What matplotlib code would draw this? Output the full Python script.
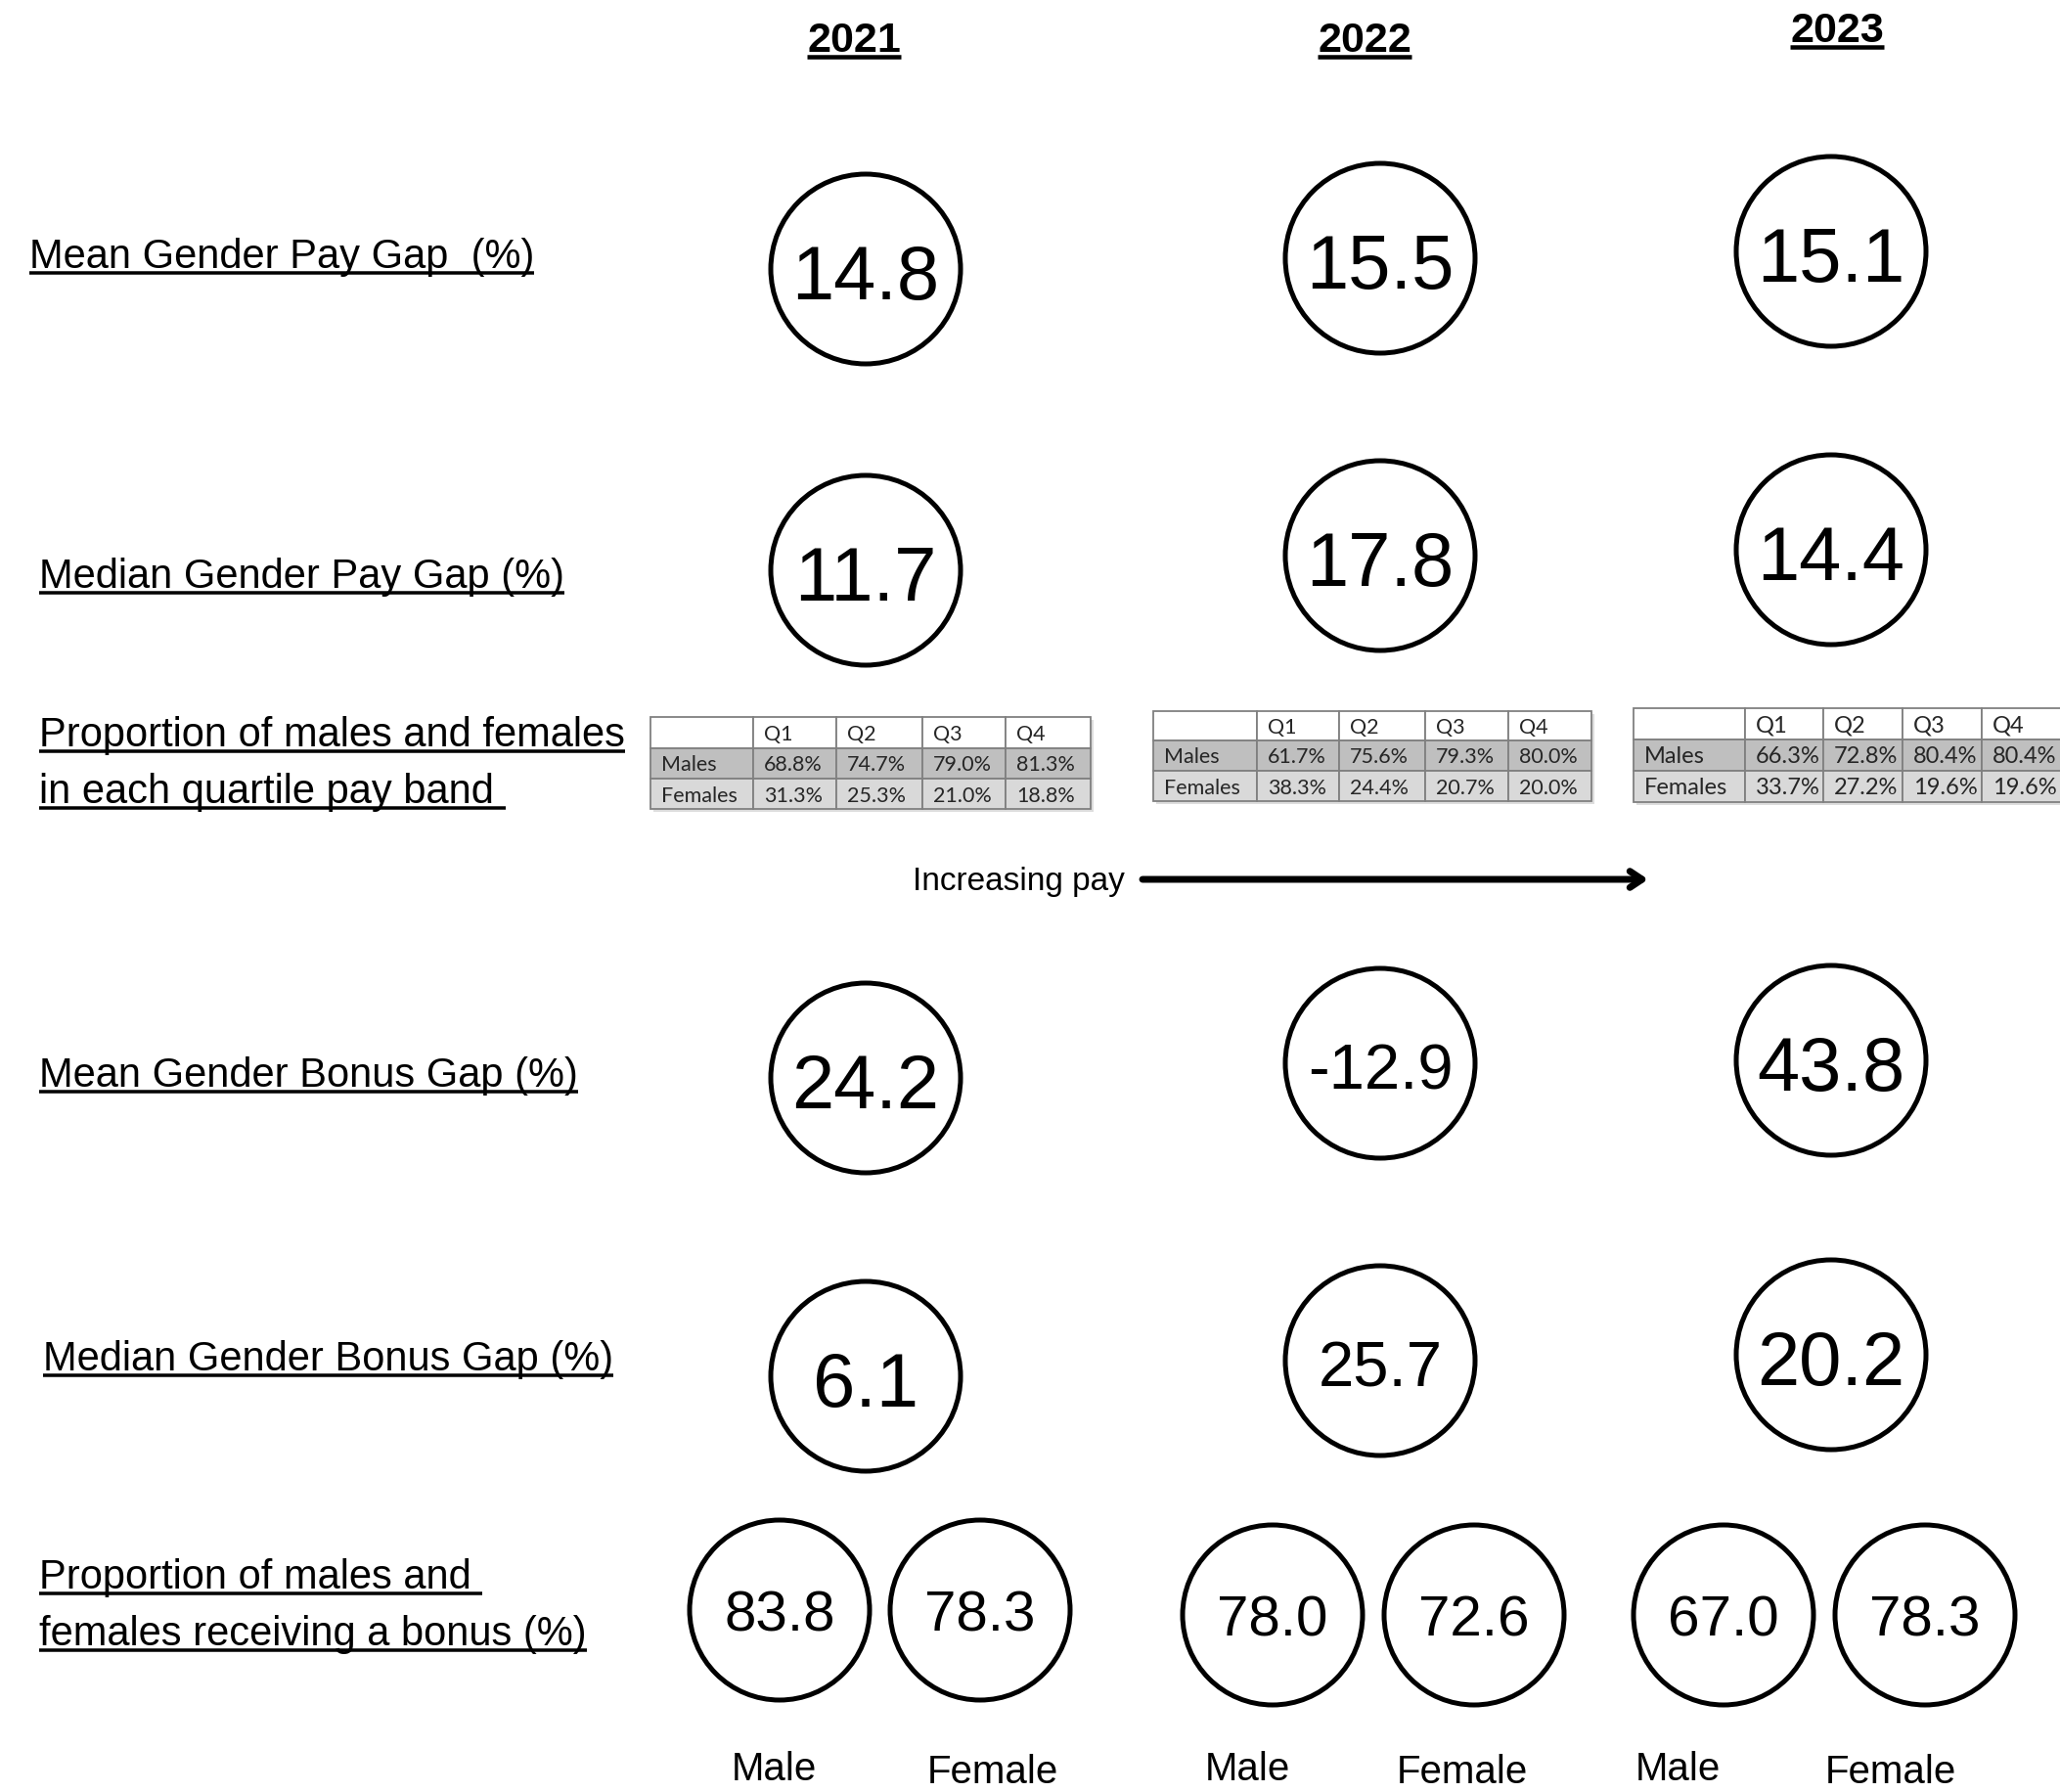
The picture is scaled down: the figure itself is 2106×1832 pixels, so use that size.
import matplotlib
matplotlib.use('Agg')
import matplotlib.pyplot as plt
from matplotlib.patches import Circle, Rectangle

plt.rcParams['font.family'] = ['Liberation Sans', 'DejaVu Sans']

# data
years = ['2021', '2022', '2023']
mean_pay_gap = [14.8, 15.5, 15.1]
median_pay_gap = [11.7, 17.8, 14.4]
mean_bonus_gap = [24.2, -12.9, 43.8]
median_bonus_gap = [6.1, 25.7, 20.2]
bonus_male = [83.8, 78.0, 67.0]
bonus_female = [78.3, 72.6, 78.3]
quartiles = ['Q1', 'Q2', 'Q3', 'Q4']
males_quartile = [[68.8, 74.7, 79.0, 81.3],
                  [61.7, 75.6, 79.3, 80.0],
                  [66.3, 72.8, 80.4, 80.4]]
females_quartile = [[31.3, 25.3, 21.0, 18.8],
                    [38.3, 24.4, 20.7, 20.0],
                    [33.7, 27.2, 19.6, 19.6]]
row_labels = [
    'Mean Gender Pay Gap  (%)',
    'Median Gender Pay Gap (%)',
    'Proportion of males and females\nin each quartile pay band ',
    'Mean Gender Bonus Gap (%)',
    'Median Gender Bonus Gap (%)',
    'Proportion of males and \nfemales receiving a bonus (%)',
]

# layout (pixel coords, y down)
W, H = 2106, 1833
year_x = [873, 1395, 1878]
year_base = [53, 53, 43]
big_r = 97
small_r = 92
circle_x = [885, 1411, 1872]
circle_y = {
    'mean_pay': [276, 265, 258],
    'median_pay': [584, 569, 563],
    'mean_bonus': [1103, 1088, 1085],
    'median_bonus': [1408, 1392, 1386],
}
num_size = {('mean_bonus', 1): 47, ('median_bonus', 1): 47}
small_x = [(797, 1002), (1301, 1507), (1762, 1968)]
small_y = [1647, 1652, 1652]
label_pos = [(30, 274), (40, 601), (40, 763), (40, 1111), (44, 1401), (40, 1624)]
label_line_gap = 58
table_cols = [[665, 770, 855, 943, 1028, 1115],
              [1179, 1285, 1369, 1457, 1542, 1627],
              [1670, 1784, 1864, 1945, 2026, 2110]]
table_rows = [[734, 766, 797, 828],
              [728, 758, 789, 820],
              [725, 757, 789, 821]]
table_font = [15.5, 15.5, 17]
gender_lab_x = [(791, 1015), (1275, 1495), (1715, 1933)]

fig = plt.figure(figsize=(W / 100, H / 100), dpi=100)
ax = fig.add_axes([0, 0, 1, 1])
ax.set_xlim(0, W)
ax.set_ylim(H, 0)
ax.axis('off')

underlined = []

# year headers
for i, yr in enumerate(years):
    t = ax.text(year_x[i], year_base[i], yr, ha='center', va='baseline',
                fontsize=31, fontweight='bold')
    underlined.append((t, year_base[i] + 6, 4.5))

# row labels
for (x, y), lab in zip(label_pos, row_labels):
    for k, line in enumerate(lab.split('\n')):
        t = ax.text(x, y + k * label_line_gap, line, ha='left', va='baseline', fontsize=30)
        underlined.append((t, y + k * label_line_gap + 6, 3.5))


def big_circle(cx, cy, val, size=56):
    ax.add_patch(Circle((cx, cy), big_r, facecolor='white', edgecolor='black', lw=3.6))
    cap = 0.716 * size * 100 / 72
    ax.text(cx, cy + cap / 2 + 2, f'{val:.1f}', ha='center', va='baseline', fontsize=size)


rows = [('mean_pay', mean_pay_gap), ('median_pay', median_pay_gap),
        ('mean_bonus', mean_bonus_gap), ('median_bonus', median_bonus_gap)]
for key, vals in rows:
    for i, v in enumerate(vals):
        big_circle(circle_x[i], circle_y[key][i], v, num_size.get((key, i), 56))

# bonus proportion circles
for i in range(3):
    for cx, v in zip(small_x[i], [bonus_male[i], bonus_female[i]]):
        ax.add_patch(Circle((cx, small_y[i]), small_r, facecolor='white', edgecolor='black', lw=3.6))
        cap = 0.716 * 42 * 100 / 72
        ax.text(cx, small_y[i] + cap / 2, f'{v:.1f}', ha='center', va='baseline', fontsize=42)
    ax.text(gender_lab_x[i][0], 1820, 'Male', ha='center', va='baseline', fontsize=29)
    ax.text(gender_lab_x[i][1], 1823, 'Female', ha='center', va='baseline', fontsize=29)

# quartile tables
row_fill = ['white', '#bfbfbf', '#d9d9d9']
for i in range(3):
    cols = table_cols[i]
    rws = table_rows[i]
    cells = [[''] + quartiles,
             ['Males'] + [f'{v:.1f}%' for v in males_quartile[i]],
             ['Females'] + [f'{v:.1f}%' for v in females_quartile[i]]]
    # soft shadow
    ax.add_patch(Rectangle((cols[0] + 3, rws[0] + 3), cols[-1] - cols[0], rws[-1] - rws[0],
                           facecolor='#dddddd', edgecolor='none', zorder=1))
    for r in range(3):
        for c in range(5):
            ax.add_patch(Rectangle((cols[c], rws[r]), cols[c + 1] - cols[c], rws[r + 1] - rws[r],
                                   facecolor=row_fill[r], edgecolor='#808080', lw=1.3, zorder=2))
            ax.text(cols[c] + 11, (rws[r] + rws[r + 1]) / 2 + 1, cells[r][c], ha='left', va='center',
                    fontsize=table_font[i], color='#262626', family=['Lato', 'DejaVu Sans'], zorder=3)

# increasing pay arrow
ax.text(933, 910, 'Increasing pay', ha='left', va='baseline', fontsize=24)
ax.annotate('', xy=(1685, 900), xytext=(1168, 900),
            arrowprops=dict(arrowstyle='->,head_length=0.9,head_width=0.6', lw=5, color='black',
                            shrinkA=0, shrinkB=0))

# underlines
fig.canvas.draw()
renderer = fig.canvas.get_renderer()
inv = ax.transData.inverted()
for t, uy, lw in underlined:
    bb = t.get_window_extent(renderer)
    x0 = inv.transform((bb.x0, bb.y0))[0]
    x1 = inv.transform((bb.x1, bb.y0))[0]
    ax.plot([x0, x1], [uy, uy], color='black', lw=lw * 0.72, solid_capstyle='butt')

fig.savefig('out.png', dpi=100)
